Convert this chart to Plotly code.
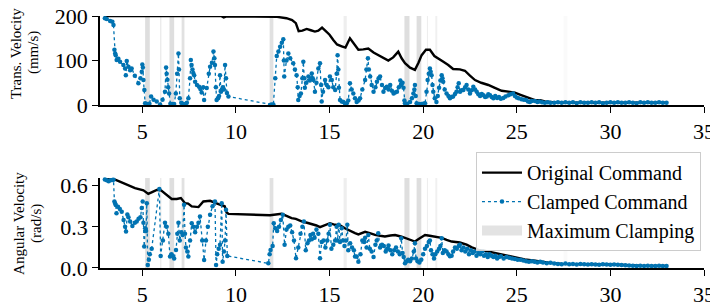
import plotly.graph_objects as go

# ---------------- data ----------------
orig_t = [2.95, 9.2, 9.35, 9.5, 11.0, 12.2, 12.7, 13.0, 13.2, 13.35, 13.55, 13.78, 14.0, 14.22, 14.4,
          14.6, 14.8, 15.0, 15.2, 15.4, 15.65, 15.85, 16.09, 16.3, 16.54, 16.8, 17.07, 17.35, 17.6, 17.9,
          18.14, 18.4, 18.67, 18.85, 19.03, 19.3, 19.56, 19.75, 19.92, 20.15, 20.36, 20.6, 20.8, 21.08,
          21.34, 21.6, 21.96, 22.23, 22.5, 22.77, 23.1, 23.48, 23.8, 24.19, 24.55, 24.9, 25.2, 25.43,
          25.7, 25.97, 26.25, 26.5, 27.04, 28.0, 30.0, 33.0]
orig_v = [200, 200, 197, 199, 199, 198, 195, 191, 184, 166, 167, 171, 168, 165, 167,
          174, 166, 158, 146, 136, 132, 129, 150, 138, 124, 125, 127, 118, 112, 105,
          100, 107, 120, 105, 94, 84, 79, 95, 112, 124, 124, 110, 104, 97,
          90, 81, 80, 77, 66, 56, 50, 45, 39, 32, 30, 28, 23, 19,
          14, 11, 11, 8, 6, 5, 5, 5]

clamp_t = [3.0, 3.1, 3.28, 3.4, 3.46, 3.51, 3.55, 3.58, 3.63, 3.72, 3.81, 3.99, 4.08, 4.12, 4.17, 4.26,
           4.35, 4.43, 4.6, 4.79, 4.9, 4.97, 5.0, 5.03, 5.06, 5.11, 5.15, 5.22, 5.3, 5.38, 5.47, 5.6,
           5.77, 5.95, 6.08, 6.21, 6.27, 6.3, 6.34, 6.38, 6.43, 6.5, 6.55, 6.62, 6.7, 6.79, 6.86, 6.93,
           6.96, 7.0, 7.08, 7.14, 7.22, 7.3, 7.38, 7.46, 7.55, 7.59, 7.63, 7.68, 7.72, 7.77, 7.82, 7.92,
           8.03, 8.1, 8.17, 8.25, 8.3, 8.44, 8.55, 8.62, 8.72, 8.8, 8.85, 8.88, 8.93, 8.97, 9.05, 9.1,
           9.15, 9.2, 9.24, 9.3, 9.36, 9.42, 9.47, 9.52, 9.6, 11.82, 11.9, 12.0, 12.1, 12.18, 12.27,
           12.36, 12.45, 12.53, 12.56, 12.58, 12.7, 12.8, 12.9, 13.06, 13.15, 13.24, 13.3, 13.33, 13.4,
           13.47, 13.55, 13.6, 13.65, 13.68, 13.76, 13.87, 13.95, 14.05, 14.1, 14.14, 14.22, 14.3, 14.4,
           14.49, 14.55, 14.58, 14.65, 14.76, 14.85, 14.94, 15.02, 15.12, 15.2, 15.3, 15.38, 15.43,
           15.47, 15.5, 15.56, 15.65, 15.74, 15.83, 15.92, 16.0, 16.09, 16.18, 16.27, 16.36, 16.45,
           16.55, 16.63, 16.75, 16.9, 16.97, 17.05, 17.1, 17.17, 17.25, 17.35, 17.45, 17.53, 17.62,
           17.7, 17.8, 17.88, 17.97, 18.06, 18.15, 18.24, 18.33, 18.42, 18.5, 18.6, 18.7, 18.78, 18.83,
           18.9, 18.95, 19.0, 19.03, 19.15, 19.3, 19.4, 19.48, 19.53, 19.56, 19.6, 19.65, 19.78, 19.92,
           20.0, 20.1, 20.18, 20.24, 20.3, 20.36, 20.4, 20.45, 20.5, 20.54, 20.62, 20.71, 20.78, 20.85,
           20.92, 20.99, 21.03, 21.07, 21.15, 21.25, 21.35, 21.43, 21.52, 21.6, 21.7, 21.78, 21.84,
           21.9, 21.97, 22.06, 22.15, 22.24, 22.32, 22.41, 22.5, 22.59, 22.68, 22.77, 22.86, 22.95,
           23.04, 23.13, 23.22, 23.31, 23.4, 23.48, 23.57, 23.66, 23.75, 23.85, 23.95, 24.05, 24.15,
           24.28, 24.4, 24.55, 24.67, 24.8, 24.9, 25.0, 25.1, 25.25, 25.38, 25.5, 25.6, 25.7, 25.8,
           25.97, 26.1, 26.2, 26.35, 26.5, 26.65, 26.8, 27.0, 27.2, 27.4, 27.6, 27.8, 28.0, 28.2, 28.4,
           28.6, 28.8, 29.0, 29.2, 29.4, 29.6, 29.8, 30.0, 30.2, 30.4, 30.6, 30.8, 31.0, 31.2, 31.4,
           31.6, 31.8, 32.0, 32.2, 32.4, 32.6, 32.8, 33.0]
clamp_v = [195, 193, 189, 187, 180, 124, 116, 112, 101, 104, 97, 90, 82, 67, 99, 86,
           78, 82, 66, 49, 60, 75, 91, 84, 56, 34, 4, 2, 2, 3, 19, 12,
           8, 1, 12, 30, 84, 70, 57, 40, 26, 3, 1, 2, 2, 26, 70, 116,
           80, 15, 5, 3, 2, 1, 5, 15, 60, 101, 90, 80, 72, 67, 52, 45,
           41, 36, 28, 40, 11, 38, 70, 86, 95, 120, 105, 90, 40, 11, 15, 20,
           67, 30, 34, 40, 35, 90, 60, 27, 19, 0, 1, 1, 60, 110, 120,
           131, 140, 148, 100, 64, 100, 116, 105, 94, 80, 67, 40, 11, 20,
           26, 60, 97, 60, 39, 50, 64, 55, 71, 60, 56, 30, 50, 82,
           94, 45, 8, 30, 56, 45, 40, 64, 56, 40, 34, 70, 112,
           80, 39, 11, 8, 7, 3, 4, 10, 49, 35, 26, 15, 7,
           10, 15, 35, 56, 80, 105, 80, 64, 45, 30, 40, 52, 60,
           64, 45, 30, 38, 41, 35, 45, 32, 26, 28, 30, 40, 55, 45,
           50, 39, 10, 4, 3, 7, 15, 26, 35, 45, 20, 4, 2, 2,
           3, 4, 30, 56, 70, 82, 75, 67, 45, 30, 15, 7, 20, 39,
           55, 67, 60, 52, 35, 26, 20, 15, 18, 19, 25, 30, 40,
           49, 30, 33, 34, 40, 45, 35, 26, 33, 41, 35, 30, 24,
           20, 25, 22, 18, 19, 24, 22, 18, 15, 20, 16, 18, 14,
           16, 19, 22, 24, 26, 20, 17, 15, 13, 12, 11, 8, 7, 9,
           9, 7, 8, 6, 5, 6, 5, 5, 6, 5, 6, 5, 6, 4, 6,
           5, 5, 6, 5, 6, 4, 5, 6, 5, 6, 5, 5, 6, 5, 4,
           6, 5, 6, 5, 5, 6, 5, 5]

orig_tw = [2.95, 3.55, 3.8, 4.08, 4.35, 4.61, 5.06, 5.32, 5.55, 5.8, 6.0, 6.2, 6.39, 6.57, 6.84, 7.06,
           7.28, 7.45, 7.64, 8.0, 8.26, 8.62, 9.0, 9.2, 9.4, 9.5, 9.6, 11.82, 12.1, 12.44, 12.7, 12.97,
           13.2, 13.51, 13.8, 14.04, 14.3, 14.49, 14.75, 15.02, 15.29, 15.55, 15.82, 16.1, 16.36, 16.54,
           16.9, 17.15, 17.43, 17.7, 17.96, 18.25, 18.5, 18.85, 19.2, 19.56, 19.8, 20.1, 20.35, 20.63,
           20.99, 21.25, 21.52, 21.96, 22.32, 22.6, 22.95, 23.2, 23.48, 23.8, 24.19, 24.55, 24.9, 25.2,
           25.43, 25.97, 26.3, 26.7, 27.4, 28.0, 29.0, 30.0, 31.0, 31.6, 33.0]
orig_w = [0.649, 0.644, 0.63, 0.615, 0.598, 0.583, 0.566, 0.54, 0.555, 0.571, 0.566, 0.545, 0.522, 0.503,
          0.503, 0.51, 0.473, 0.47, 0.449, 0.444, 0.485, 0.49, 0.47, 0.462, 0.45, 0.405, 0.395, 0.385,
          0.39, 0.395, 0.38, 0.364, 0.358, 0.34, 0.33, 0.322, 0.31, 0.298, 0.315, 0.327, 0.315, 0.312,
          0.29, 0.27, 0.254, 0.245, 0.264, 0.255, 0.241, 0.235, 0.23, 0.237, 0.24, 0.228, 0.21, 0.193,
          0.215, 0.241, 0.235, 0.23, 0.22, 0.205, 0.193, 0.186, 0.17, 0.15, 0.132, 0.128, 0.12, 0.108,
          0.095, 0.085, 0.078, 0.07, 0.063, 0.054, 0.047, 0.039, 0.03, 0.03, 0.028, 0.026, 0.02, 0.016,
          0.015]

clamp_tw = [3.0, 3.1, 3.2, 3.3, 3.4, 3.46, 3.51, 3.55, 3.58, 3.62, 3.7, 3.8, 3.9, 4.0, 4.08, 4.13,
            4.2, 4.26, 4.35, 4.47, 4.6, 4.7, 4.8, 4.9, 4.97, 5.02, 5.06, 5.1, 5.15, 5.2, 5.24, 5.29,
            5.35, 5.4, 5.5, 5.91, 5.98, 6.1, 6.21, 6.3, 6.39, 6.48, 6.56, 6.62, 6.7, 6.8, 6.87, 6.93,
            7.0, 7.08, 7.15, 7.23, 7.28, 7.33, 7.4, 7.46, 7.55, 7.64, 7.72, 7.82, 7.92, 8.0, 8.08, 8.2,
            8.3, 8.4, 8.5, 8.62, 8.75, 8.88, 8.94, 9.0, 9.08, 9.15, 9.24, 9.29, 9.36, 9.42, 9.47, 9.54,
            11.73, 11.8, 11.85, 11.96, 12.02, 12.1, 12.2, 12.3, 12.4, 12.5, 12.6, 12.7, 12.8, 12.9, 13.0,
            13.1, 13.21, 13.33, 13.45, 13.55, 13.63, 13.73, 13.82, 13.9, 13.98, 14.05, 14.12, 14.2, 14.3,
            14.4, 14.49, 14.58, 14.68, 14.78, 14.88, 14.95, 15.02, 15.1, 15.2, 15.3, 15.38, 15.43, 15.49,
            15.56, 15.65, 15.72, 15.8, 15.88, 15.95, 16.0, 16.1, 16.2, 16.3, 16.36, 16.45, 16.54, 16.65,
            16.75, 16.85, 16.9, 16.98, 17.07, 17.15, 17.25, 17.35, 17.45, 17.52, 17.6, 17.7, 17.8, 17.9,
            18.0, 18.08, 18.15, 18.25, 18.35, 18.45, 18.55, 18.65, 18.75, 18.83, 18.9, 18.96, 19.03,
            19.12, 19.2, 19.3, 19.4, 19.5, 19.56, 19.62, 19.7, 19.8, 19.9, 20.0, 20.1, 20.2, 20.3, 20.36,
            20.42, 20.5, 20.58, 20.65, 20.75, 20.85, 20.92, 20.99, 21.05, 21.15, 21.25, 21.35, 21.43,
            21.52, 21.6, 21.7, 21.8, 21.9, 21.96, 22.05, 22.15, 22.25, 22.35, 22.45, 22.55, 22.65, 22.75,
            22.85, 22.95, 23.05, 23.15, 23.25, 23.35, 23.45, 23.55, 23.65, 23.75, 23.85, 23.95, 24.05,
            24.15, 24.3, 24.45, 24.6, 24.75, 24.9, 25.05, 25.2, 25.35, 25.5, 25.65, 25.8, 25.95, 26.1,
            26.25, 26.4, 26.6, 26.8, 27.0, 27.2, 27.4, 27.6, 27.8, 28.0, 28.2, 28.4, 28.6, 28.8, 29.0,
            29.2, 29.4, 29.6, 29.8, 30.0, 30.2, 30.4, 30.6, 30.8, 31.0, 31.2, 31.4, 31.6, 31.8, 32.0,
            32.2, 32.4, 32.6, 32.8, 33.0]
clamp_w = [0.645, 0.64, 0.632, 0.64, 0.642, 0.644, 0.485, 0.47, 0.46, 0.40, 0.446, 0.43, 0.41, 0.35, 0.30,
           0.266, 0.39, 0.37, 0.34, 0.307, 0.33, 0.34, 0.36, 0.37, 0.437, 0.485, 0.33, 0.156, 0.29, 0.27,
           0.473, 0.022, 0.06, 0.10, 0.14, 0.576, 0.088, 0.2, 0.33, 0.3, 0.25, 0.083, 0.10, 0.09, 0.07,
           0.132, 0.25, 0.33, 0.2, 0.26, 0.24, 0.461, 0.25, 0.15, 0.12, 0.083, 0.2, 0.327, 0.3, 0.26,
           0.3, 0.33, 0.376, 0.2, 0.059, 0.2, 0.3, 0.388, 0.45, 0.485, 0.022, 0.10, 0.14, 0.17, 0.473,
           0.046, 0.12, 0.20, 0.424, 0.088,
           0.034, 0.10, 0.132, 0.16, 0.327, 0.29, 0.27, 0.3, 0.35, 0.388, 0.17, 0.28, 0.3, 0.31, 0.26,
           0.2, 0.071, 0.15, 0.25, 0.3, 0.339, 0.13, 0.18, 0.2, 0.24, 0.21, 0.25, 0.22, 0.28,
           0.25, 0.071, 0.19, 0.2, 0.15, 0.2, 0.25, 0.315, 0.14, 0.17, 0.2, 0.30, 0.2, 0.315,
           0.19, 0.29, 0.2, 0.16, 0.2, 0.315, 0.13, 0.18, 0.15, 0.13, 0.083, 0.083, 0.045, 0.1,
           0.2, 0.19, 0.22, 0.15, 0.241, 0.14, 0.12, 0.08, 0.17, 0.2, 0.254, 0.15, 0.17, 0.16,
           0.12, 0.14, 0.165, 0.13, 0.1, 0.13, 0.15, 0.12, 0.1, 0.217, 0.11, 0.08, 0.034,
           0.05, 0.06, 0.05, 0.07, 0.12, 0.18, 0.07, 0.05, 0.04, 0.06, 0.1, 0.14, 0.16, 0.19, 0.2,
           0.13, 0.1, 0.07, 0.1, 0.12, 0.14, 0.16, 0.217, 0.11, 0.13, 0.12, 0.1, 0.085,
           0.09, 0.12, 0.15, 0.14, 0.16, 0.17, 0.13, 0.15, 0.12, 0.14, 0.1, 0.13, 0.11, 0.12,
           0.09, 0.11, 0.1, 0.12, 0.09, 0.1, 0.08, 0.1, 0.09, 0.08, 0.09, 0.07, 0.08,
           0.085, 0.07, 0.08, 0.075, 0.07, 0.065, 0.06, 0.06, 0.055, 0.05, 0.045, 0.05, 0.045, 0.04,
           0.045, 0.04, 0.035, 0.038, 0.032, 0.03, 0.028, 0.032, 0.027, 0.03, 0.026, 0.029, 0.027, 0.025, 0.028,
           0.026, 0.024, 0.027, 0.025, 0.023, 0.026, 0.024, 0.022, 0.02, 0.018, 0.016, 0.015, 0.017, 0.014, 0.016,
           0.015, 0.014, 0.016, 0.015, 0.014]

# maximum clamping intervals (start, end) and how strongly clamped (0..1)
span_start = [5.15, 5.95, 6.45, 7.1, 11.8, 15.75, 19.0, 19.65, 20.2, 20.65, 27.5]
span_end = [5.4, 6.02, 6.7, 7.25, 12.0, 15.92, 19.27, 19.9, 20.26, 20.75, 27.7]
span_level = [1.0, 0.6, 1.0, 0.9, 0.9, 0.5, 1.0, 1.0, 0.5, 0.45, 0.15]

x_ticks = [5, 10, 15, 20, 25, 30, 35]
v_ticks = [0, 100, 200]
w_ticks = [0.0, 0.3, 0.6]

legend_names = ["Original Command", "Clamped Command", "Maximum Clamping"]
v_label = ["Trans. Velocity", "(mm/s)"]
w_label = ["Angular Velocity", "(rad/s)"]

# ---------------- figure ----------------
BLUE = "#0173B2"
FONT = "Liberation Serif"

fig = go.Figure()

for xa, ya, tt, oo, ct, cc, show in [("x", "y", orig_t, orig_v, clamp_t, clamp_v, True),
                                      ("x2", "y2", orig_tw, orig_w, clamp_tw, clamp_w, False)]:
    fig.add_trace(go.Scatter(x=tt, y=oo, xaxis=xa, yaxis=ya, mode="lines",
                             line=dict(color="black", width=2.4),
                             name=legend_names[0], showlegend=show, legendrank=1, cliponaxis=False))
    fig.add_trace(go.Scatter(x=ct, y=cc, xaxis=xa, yaxis=ya, mode="lines+markers",
                             line=dict(color=BLUE, width=1.3, dash="dot"),
                             marker=dict(color=BLUE, size=4.5),
                             name=legend_names[1], showlegend=show, legendrank=2, cliponaxis=False))

# legend entry for the maximum-clamping spans
fig.add_trace(go.Scatter(x=[None], y=[None], xaxis="x2", yaxis="y2", mode="lines",
                         line=dict(color="#e3e3e3", width=12),
                         name=legend_names[2], legendrank=3))

shapes = []
for s, e, lv in zip(span_start, span_end, span_level):
    for xr, yr in [("x", "y domain"), ("x2", "y2 domain")]:
        shapes.append(dict(type="rect", xref=xr, yref=yr, x0=s, x1=e, y0=0, y1=1,
                           fillcolor="#c8c8c8", opacity=0.6 * lv, line=dict(width=0),
                           layer="below"))
fig.update_layout(shapes=shapes)

axis_common = dict(showline=True, linecolor="black", linewidth=1.6, showgrid=False, zeroline=False,
                   ticks="outside", ticklen=6, tickwidth=1.4, tickcolor="black", automargin=False,
                   ticklabeloverflow="allow",
                   tickfont=dict(family=FONT, size=22, color="black"))

label_font = dict(family=FONT, size=15, color="black")
annotations = []
for text, x, y in [(v_label[0], -0.1391, 0.853), (v_label[1], -0.1109, 0.853),
                   (w_label[0], -0.1341, 0.175), (w_label[1], -0.1043, 0.175)]:
    annotations.append(dict(text=text, xref="paper", yref="paper", x=x, y=y,
                            xanchor="center", yanchor="middle", textangle=-90,
                            showarrow=False, font=label_font))

# the page adds an 8px body margin, so the figure is drawn 8px smaller and shifted
fig.update_layout(
    width=710, height=298,
    margin=dict(l=92, r=14, t=8, b=38),
    paper_bgcolor="white", plot_bgcolor="white",
    xaxis=dict(domain=[0, 1], anchor="y", range=[2.74, 35], tickvals=x_ticks, **axis_common),
    yaxis=dict(domain=[0.6468, 1], anchor="x", range=[0, 200], tickvals=v_ticks, **axis_common),
    xaxis2=dict(domain=[0, 1], anchor="y2", range=[2.74, 35], tickvals=x_ticks, **axis_common),
    yaxis2=dict(domain=[0, 0.357], anchor="x2", range=[0, 0.656], tickvals=w_ticks,
                tickformat=".1f", **axis_common),
    legend=dict(x=0.995, y=0.46, xanchor="right", yanchor="top",
                bgcolor="rgba(255,255,255,0.85)", bordercolor="#cccccc", borderwidth=1,
                font=dict(family=FONT, size=20, color="black"), itemwidth=40,
                tracegroupgap=0),
    annotations=annotations,
)

fig.write_html("out.html")
